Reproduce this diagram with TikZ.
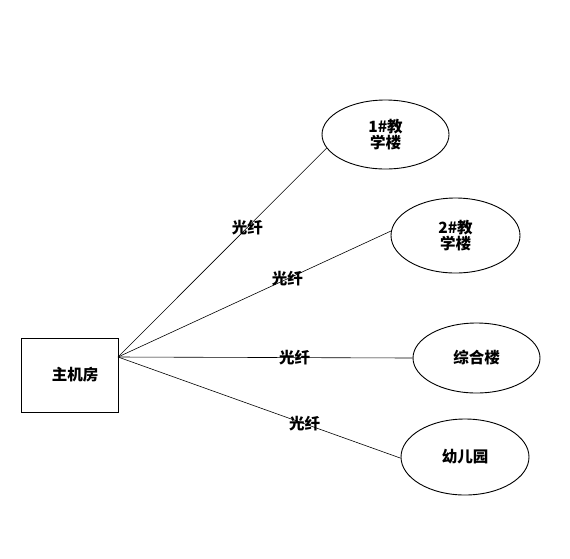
\documentclass[tikz,border=0pt]{standalone}
\usepackage{fontspec}
\setmainfont{Noto Sans CJK SC}
\usetikzlibrary{shapes.geometric}

\tikzset{
  room/.style={draw, line width=0.9pt, minimum width=97pt, minimum height=74pt, inner sep=0pt},
  bldg/.style={draw, ellipse, line width=0.9pt, inner sep=0pt, align=center},
  fiber/.style={line width=0.6pt},
  fiberlbl/.style={inner sep=0pt}
}

\begin{document}
\begin{tikzpicture}[x=1pt,y=-1pt,font=\bfseries\fontsize{15.5}{16.5}\selectfont]
	\useasboundingbox (0,0) rectangle (570,558);
	\node[room] (zjf) at (70,375) {\kern10pt 主机房};
	\coordinate (hub) at (118,357);
	\node[bldg, minimum width=127pt, minimum height=69pt] (jxl1) at (385.5,134.5) {1\#教\\学楼};
	\node[bldg, minimum width=129pt, minimum height=75pt] (jxl2) at (455.5,235.5) {2\#教\\学楼};
	\node[bldg, minimum width=127pt, minimum height=70pt] (zhl) at (476.5,358) {综合楼};
	\node[bldg, minimum width=128pt, minimum height=76pt] (yey) at (465,457) {幼儿园};
	\draw[fiber] (hub) -- node[fiberlbl, pos=0.62] {光纤} (jxl1.193);
	\draw[fiber] (hub) -- node[fiberlbl, pos=0.62] {光纤} (jxl2.176);
	\draw[fiber] (hub) -- node[fiberlbl, pos=0.60] {光纤} (zhl.west);
	\draw[fiber] (hub) -- node[fiberlbl, pos=0.66] {光纤} (yey.181);
\end{tikzpicture}
\end{document}
